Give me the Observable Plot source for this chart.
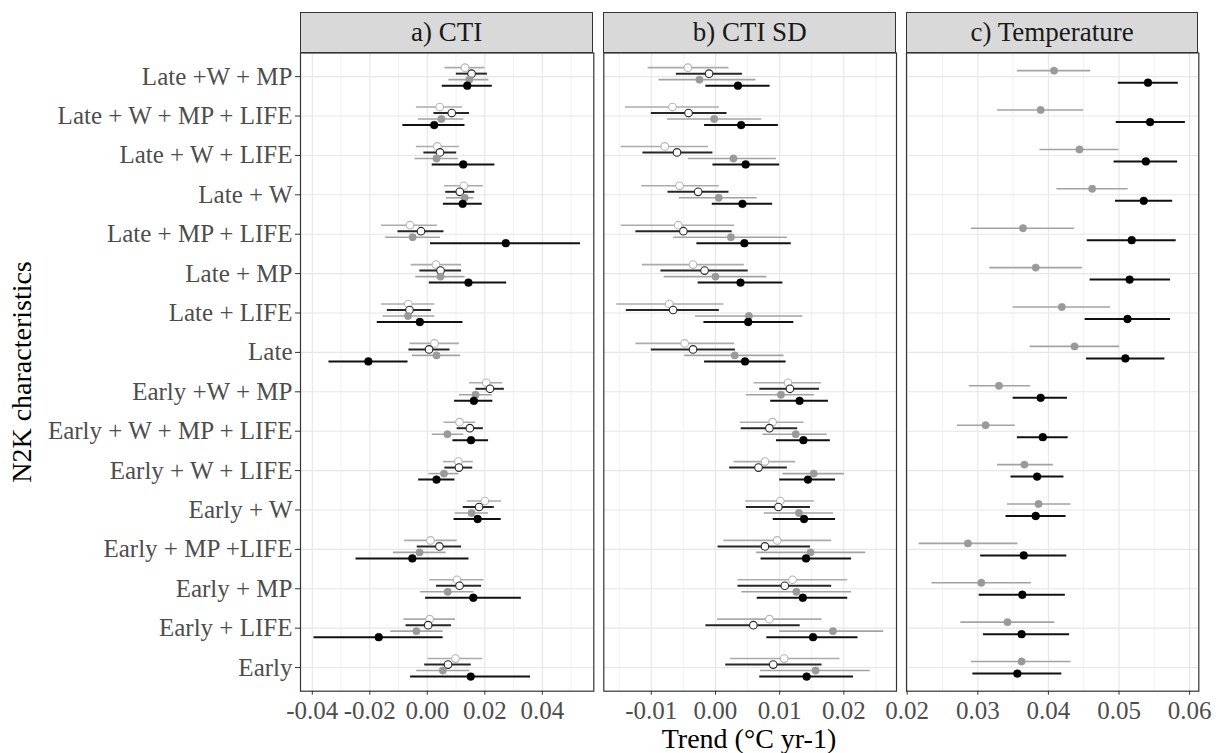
<!DOCTYPE html>
<html>
<head>
<meta charset="utf-8">
<script src="https://cdn.jsdelivr.net/npm/d3@7"></script>
<script src="https://cdn.jsdelivr.net/npm/@observablehq/plot@0.6"></script>
<style>
  body { margin: 0; background: #fff; }
  #root { position: relative; width: 1219px; height: 753px; background: #fff; font-family: "Liberation Serif", serif; overflow: hidden; }
  .strip { position: absolute; box-sizing: border-box; background: #D9D9D9; border: 1.2px solid #333; color: #1A1A1A; text-align: center; font-size: 27px; }
  .title { position: absolute; color: #000; font-size: 28px; text-align: center; white-space: nowrap; }
</style>
</head>
<body>
<div id="root"></div>
<script>
// ---------------- DATA ----------------
const categories = [
  "Late +W + MP", "Late + W + MP + LIFE", "Late + W + LIFE", "Late + W",
  "Late + MP + LIFE", "Late + MP", "Late + LIFE", "Late",
  "Early +W + MP", "Early + W + MP + LIFE", "Early + W + LIFE", "Early + W",
  "Early + MP +LIFE", "Early + MP", "Early + LIFE", "Early"
];
const panelTitles = ["a) CTI", "b) CTI SD", "c) Temperature"];
const xTitle = "Trend (\u00B0C yr-1)";
const yTitle = "N2K characteristics";

// [estimate, lower, upper] per category, top to bottom
// series 1 = light open circle, 2 = dark open circle, 3 = grey filled, 4 = black filled
const ctiS1 = [[0.0131,0.0061,0.0200],[0.0043,-0.0038,0.0122],[0.0035,-0.0038,0.0112],[0.0127,0.0060,0.0195],[-0.0060,-0.0159,0.0035],[0.0030,-0.0056,0.0119],[-0.0066,-0.0159,0.0026],[0.0025,-0.0060,0.0112],[0.0205,0.0147,0.0262],[0.0112,0.0058,0.0168],[0.0108,0.0056,0.0160],[0.0200,0.0139,0.0258],[0.0011,-0.0079,0.0104],[0.0103,0.0009,0.0197],[0.0008,-0.0081,0.0098],[0.0098,0.0003,0.0193]];
const ctiS2 = [[0.0154,0.0101,0.0209],[0.0085,0.0023,0.0147],[0.0044,-0.0012,0.0102],[0.0113,0.0064,0.0165],[-0.0022,-0.0102,0.0058],[0.0046,-0.0026,0.0119],[-0.0062,-0.0139,0.0014],[0.0006,-0.0064,0.0079],[0.0218,0.0169,0.0268],[0.0148,0.0104,0.0195],[0.0110,0.0061,0.0158],[0.0180,0.0125,0.0233],[0.0042,-0.0035,0.0119],[0.0112,0.0032,0.0189],[0.0003,-0.0074,0.0084],[0.0072,-0.0009,0.0153]];
const ctiS3 = [[0.0146,0.0075,0.0214],[0.0049,-0.0031,0.0127],[0.0032,-0.0043,0.0108],[0.0130,0.0066,0.0162],[-0.0051,-0.0145,0.0046],[0.0046,-0.0040,0.0131],[-0.0067,-0.0154,0.0026],[0.0032,-0.0052,0.0116],[0.0168,0.0112,0.0226],[0.0070,0.0017,0.0127],[0.0058,0.0006,0.0110],[0.0154,0.0097,0.0213],[-0.0027,-0.0118,0.0065],[0.0071,-0.0023,0.0162],[-0.0038,-0.0127,0.0055],[0.0054,-0.0037,0.0148]];
const ctiS4 = [[0.0139,0.0052,0.0226],[0.0024,-0.0085,0.0131],[0.0125,0.0017,0.0235],[0.0123,0.0056,0.0191],[0.0273,0.0011,0.0533],[0.0143,0.0007,0.0276],[-0.0026,-0.0174,0.0124],[-0.0205,-0.0342,-0.0067],[0.0162,0.0095,0.0228],[0.0152,0.0089,0.0213],[0.0032,-0.0030,0.0096],[0.0175,0.0093,0.0257],[-0.0052,-0.0248,0.0145],[0.0160,-0.0006,0.0327],[-0.0169,-0.0394,0.0055],[0.0151,-0.0058,0.0359]];

const sdS1 = [[-0.0043,-0.0105,0.0021],[-0.0067,-0.0140,0.0006],[-0.0079,-0.0147,-0.0011],[-0.0056,-0.0115,0.0006],[-0.0058,-0.0147,0.0030],[-0.0035,-0.0114,0.0045],[-0.0072,-0.0154,0.0013],[-0.0048,-0.0124,0.0030],[0.0113,0.0060,0.0165],[0.0089,0.0039,0.0138],[0.0077,0.0029,0.0125],[0.0101,0.0047,0.0154],[0.0096,0.0013,0.0181],[0.0120,0.0035,0.0206],[0.0084,0.0003,0.0166],[0.0107,0.0023,0.0194]];
const sdS2 = [[-0.0010,-0.0061,0.0042],[-0.0042,-0.0100,0.0018],[-0.0060,-0.0113,-0.0004],[-0.0027,-0.0074,0.0021],[-0.0050,-0.0124,0.0026],[-0.0017,-0.0085,0.0051],[-0.0066,-0.0139,0.0006],[-0.0035,-0.0100,0.0031],[0.0116,0.0069,0.0162],[0.0084,0.0040,0.0128],[0.0067,0.0022,0.0112],[0.0098,0.0048,0.0148],[0.0077,0.0004,0.0148],[0.0108,0.0035,0.0181],[0.0059,-0.0015,0.0132],[0.0090,0.0016,0.0166]];
const sdS3 = [[-0.0025,-0.0088,0.0063],[-0.0002,-0.0075,0.0072],[0.0028,-0.0042,0.0095],[0.0005,-0.0056,0.0065],[0.0024,-0.0065,0.0112],[0.0000,-0.0080,0.0080],[0.0052,-0.0031,0.0136],[0.0030,-0.0048,0.0107],[0.0102,0.0048,0.0154],[0.0125,0.0074,0.0174],[0.0153,0.0105,0.0201],[0.0130,0.0076,0.0184],[0.0148,0.0064,0.0234],[0.0126,0.0041,0.0212],[0.0183,0.0100,0.0262],[0.0156,0.0070,0.0241]];
const sdS4 = [[0.0035,-0.0015,0.0085],[0.0040,-0.0017,0.0098],[0.0047,-0.0004,0.0100],[0.0042,-0.0005,0.0089],[0.0045,-0.0029,0.0118],[0.0039,-0.0027,0.0105],[0.0051,-0.0018,0.0122],[0.0046,-0.0017,0.0110],[0.0131,0.0086,0.0176],[0.0137,0.0095,0.0179],[0.0144,0.0100,0.0187],[0.0138,0.0090,0.0187],[0.0141,0.0071,0.0212],[0.0136,0.0065,0.0206],[0.0152,0.0080,0.0222],[0.0142,0.0069,0.0215]];

const tempS3 = [[0.0408,0.0356,0.0460],[0.0389,0.0328,0.0450],[0.0444,0.0388,0.0500],[0.0462,0.0412,0.0513],[0.0364,0.0291,0.0437],[0.0382,0.0317,0.0448],[0.0419,0.0350,0.0488],[0.0437,0.0374,0.0501],[0.0330,0.0288,0.0375],[0.0311,0.0271,0.0353],[0.0366,0.0328,0.0407],[0.0386,0.0342,0.0432],[0.0286,0.0217,0.0357],[0.0305,0.0235,0.0376],[0.0342,0.0276,0.0409],[0.0362,0.0291,0.0432]];
const tempS4 = [[0.0541,0.0499,0.0584],[0.0544,0.0496,0.0594],[0.0538,0.0493,0.0583],[0.0535,0.0495,0.0576],[0.0518,0.0455,0.0581],[0.0515,0.0459,0.0573],[0.0512,0.0452,0.0573],[0.0509,0.0454,0.0565],[0.0389,0.0350,0.0427],[0.0392,0.0356,0.0428],[0.0384,0.0347,0.0422],[0.0382,0.0340,0.0425],[0.0365,0.0304,0.0426],[0.0363,0.0302,0.0424],[0.0362,0.0308,0.0430],[0.0356,0.0293,0.0419]];

const ticksA = [-0.04, -0.02, 0.00, 0.02, 0.04];
const minorA = [-0.03, -0.01, 0.01, 0.03, 0.05];
const ticksB = [-0.01, 0.00, 0.01, 0.02];
const minorB = [-0.015, -0.005, 0.005, 0.015, 0.025];
const ticksC = [0.02, 0.03, 0.04, 0.05, 0.06];
const minorC = [0.025, 0.035, 0.045, 0.055];

// ---------------- STYLES ----------------
const W = 1219, H = 753;
const panelTop = 52.5, panelBottom = 690.7, stripTop = 12;
const seriesStyle = {
  s1: {line: "#ABABAB", lw: 1.6, fill: "white", stroke: "#B5B5B5", r: 3.8, sw: 1.1},
  s2: {line: "#262626", lw: 2.0, fill: "white", stroke: "#262626", r: 3.8, sw: 1.1},
  s3: {line: "#A3A3A3", lw: 1.6, fill: "#9A9A9A", stroke: "#9A9A9A", r: 3.7, sw: 0.5},
  s4: {line: "#111111", lw: 2.0, fill: "#000000", stroke: "#000000", r: 3.9, sw: 0.5}
};
const fmt = d => d.toFixed(2);

function rows(arr) {
  return arr.map((d, i) => ({cat: categories[i], est: d[0], lo: d[1], hi: d[2]}));
}

const root = document.getElementById("root");

function panel({left, right, domain, ticks, minor, series, showY, title}) {
  const marks = [
    Plot.gridX(minor, {stroke: "#EFEFEF", strokeOpacity: 1, strokeWidth: 0.9}),
    Plot.gridX(ticks, {stroke: "#E6E6E6", strokeOpacity: 1, strokeWidth: 1.1}),
    Plot.gridY(categories, {stroke: "#E6E6E6", strokeOpacity: 1, strokeWidth: 1.1})
  ];
  for (const s of series) {
    const st = seriesStyle[s.key];
    const data = rows(s.data);
    marks.push(Plot.ruleY(data, {y: "cat", x1: "lo", x2: "hi", dy: s.dy, stroke: st.line, strokeWidth: st.lw}));
    marks.push(Plot.dot(data, {y: "cat", x: "est", dy: s.dy, r: st.r, fill: st.fill, stroke: st.stroke, strokeWidth: st.sw}));
  }
  marks.push(Plot.frame({stroke: "#333", strokeWidth: 1.2}));
  marks.push(Plot.axisX(ticks, {tickSize: 4, tickPadding: 6, tickFormat: fmt, fontSize: 25, fill: "#4D4D4D", stroke: "#333", label: null}));
  if (showY) {
    marks.push(Plot.axisY({tickSize: 5, tickPadding: 3, fontSize: 25, fill: "#4D4D4D", stroke: "#333", label: null}));
  }
  const svg = Plot.plot({
    width: W, height: H,
    marginLeft: left, marginRight: W - right, marginTop: panelTop, marginBottom: H - panelBottom,
    x: {domain, axis: null},
    y: {type: "point", domain: categories, padding: 0.6, round: false, axis: null},
    style: {position: "absolute", left: "0px", top: "0px", background: "transparent", fontFamily: "Liberation Serif, serif", overflow: "visible"},
    marks
  });
  root.appendChild(svg);
  const strip = document.createElement("div");
  strip.className = "strip";
  strip.style.left = left + "px";
  strip.style.top = stripTop + "px";
  strip.style.width = (right - left) + "px";
  strip.style.height = (panelTop - stripTop + 0.6) + "px";
  strip.style.lineHeight = (panelTop - stripTop - 2) + "px";
  strip.textContent = title;
  root.appendChild(strip);
}

panel({left: 300, right: 593.3, domain: [-0.0441, 0.0579], ticks: ticksA, minor: minorA, showY: true, title: panelTitles[0],
  series: [{key: "s1", data: ctiS1, dy: -9}, {key: "s2", data: ctiS2, dy: -3}, {key: "s3", data: ctiS3, dy: 3}, {key: "s4", data: ctiS4, dy: 9}]});
panel({left: 603.3, right: 896, domain: [-0.0174, 0.0282], ticks: ticksB, minor: minorB, showY: false, title: panelTitles[1],
  series: [{key: "s1", data: sdS1, dy: -9}, {key: "s2", data: sdS2, dy: -3}, {key: "s3", data: sdS3, dy: 3}, {key: "s4", data: sdS4, dy: 9}]});
panel({left: 906, right: 1198.3, domain: [0.0199, 0.0613], ticks: ticksC, minor: minorC, showY: false, title: panelTitles[2],
  series: [{key: "s3", data: tempS3, dy: -6}, {key: "s4", data: tempS4, dy: 6}]});

const xt = document.createElement("div");
xt.className = "title";
xt.style.left = "300px"; xt.style.width = "898px"; xt.style.top = "722px"; xt.style.lineHeight = "34px";
xt.textContent = xTitle;
root.appendChild(xt);

const yt = document.createElement("div");
yt.className = "title";
yt.style.left = (22 - 200) + "px"; yt.style.width = "400px"; yt.style.top = (372 - 17) + "px";
yt.style.height = "34px"; yt.style.lineHeight = "34px"; yt.style.transform = "rotate(-90deg)";
yt.textContent = yTitle;
root.appendChild(yt);
</script>
</body>
</html>
